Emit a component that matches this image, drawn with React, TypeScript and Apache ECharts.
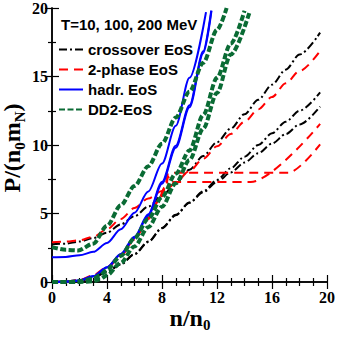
import React, { useEffect, useRef } from "react";
import * as echarts from "echarts";

// ---- data (x = n/n0, y = P/(n0 mN)) ----
const xTicks = [0, 4, 8, 12, 16, 20];
const yTicks = [0, 5, 10, 15, 20];

const crossT200 = [[0,2.75],[1,2.8],[2,2.95],[3,3.2],[4,3.6],[5,4.2],[6,4.8],[7,5.5],[8,6.3],[9,7.2],[10,8.2],[11,9.2],[12,10.2],[13,11.2],[14,12.25],[15,13.3],[16,14.4],[17,15.5],[18,16.6],[19.5,18.2]];
const crossT100 = [[0,0],[1,0.02],[2,0.1],[3,0.35],[4,0.75],[5,1.3],[6,2.05],[7,2.95],[8,3.95],[9,4.9],[10,5.8],[11,6.62],[12,7.45],[13,8.3],[14,9.15],[15,10.0],[16,10.85],[17,11.7],[18,12.5],[19.5,13.84]];
const crossT10 = [[0,0],[1,0.01],[2,0.08],[3,0.32],[4,0.72],[5,1.28],[6,2.03],[7,2.92],[8,3.92],[9,4.88],[10,5.78],[11,6.55],[12,7.3],[13,8.0],[14,8.72],[15,9.4],[16,10.1],[17,10.8],[18,11.5],[19.5,12.8]];

const twoT200 = [[0,2.9],[1,2.95],[2,3.05],[3,3.3],[4,3.85],[5,4.6],[6,5.4],[7,6.1],[8,6.65],[8.5,6.9],[9,7.3],[10,8.1],[11,9.0],[12,9.9],[13,10.8],[14,11.7],[15,12.6],[16,13.5],[17,14.5],[18,15.4],[19.5,16.87]];
const twoT100 = [[0,0],[1,0.03],[2,0.15],[3,0.5],[4,1.1],[5,2.0],[6,3.2],[7,4.7],[7.7,5.9],[8.2,6.9],[8.45,7.9],[8.6,7.98],[17.2,7.98],[19.5,10.04]];
const twoT10 = [[0,0],[1,0.02],[2,0.12],[3,0.45],[4,1.0],[5,1.9],[6,3.1],[7,4.6],[7.8,6.0],[8.3,7.0],[8.45,7.7],[8.6,7.3],[14.45,7.3],[19.5,11.54]];

const hadrT200 = [[0,1.8],[1,1.83],[2,1.95],[3,2.2],[4,2.85],[5,3.85],[6,5.05],[7,6.6],[8,8.65],[9,11.4],[10,14.9],[11.2,19.7]];
const hadrT100 = [[0,0.02],[1,0.04],[2,0.13],[3,0.43],[4,1.08],[5,2.05],[6,3.3],[7,4.95],[8,7.3],[9,9.95],[10,12.9],[11,16.85],[11.58,19.8]];
const hadrT10 = [[0,0],[1,0.02],[2,0.1],[3,0.4],[4,1.05],[5,2.0],[6,3.22],[7,4.85],[8,7.18],[9,9.8],[10,12.75],[11,16.7],[11.6,19.8]];

const dd2T200 = [[0,2.55],[1,2.35],[1.9,2.3],[3,2.8],[4,4.1],[5,5.6],[6,7.0],[7,8.45],[8,10.1],[9,12.0],[10,13.9],[11,16.0],[12,18.4],[12.7,20]];
const dd2T100 = [[0,0],[1,0],[2,0.05],[3,0.25],[3.5,0.5],[4,0.9],[5,1.9],[6,3.2],[7,4.6],[8,6.2],[9,7.9],[10,9.6],[11,12.2],[12,14.9],[13,17.4],[14,19.8]];
const dd2T10 = [[0,0],[1,0],[2,0],[3,0.05],[3.5,0.2],[4,0.5],[5,1.4],[6,2.6],[7,4.0],[8,5.5],[9,7.2],[10,8.9],[11,11.2],[12,13.8],[13,16.6],[14.4,19.8]];

const legendTitle = "T=10, 100, 200 MeV";
const legendNames = ["crossover EoS", "2-phase EoS", "hadr. EoS", "DD2-EoS"];

const BLACK = "#000000";
const RED = "#ff0000";
const BLUE = "#0000ff";
const GREEN = "#0a6b34";

const styles = [
  { color: BLACK, width: 2, dash: [8, 3, 2, 3] },
  { color: RED, width: 2, dash: [9, 6] },
  { color: BLUE, width: 2, dash: "solid" as any },
  { color: GREEN, width: 4, dash: [6, 2.5] },
];

export default function App() {
  const ref = useRef<HTMLDivElement>(null);
  useEffect(() => {
    document.body.style.margin = "0";
    const chart = echarts.init(ref.current!, null, { renderer: "svg" });
    const mk = (name: string, data: number[][], s: any, z: number) => ({
      type: "line",
      name,
      data,
      showSymbol: false,
      symbol: "none",
      smooth: 0.3,
      smoothMonotone: "x",
      z,
      color: s.color,
      itemStyle: { color: s.color },
      lineStyle: { color: s.color, width: s.width, type: s.dash },
      silent: true,
    });
    const serif = "Liberation Serif";
    const sans = "Liberation Sans";
    const axisCommon = {
      type: "value",
      min: 0,
      max: 20,
      axisLine: { show: true, lineStyle: { color: "#000", width: 1.5 } },
      axisTick: { show: true, inside: true, length: 7, lineStyle: { color: "#000", width: 1.2 } },
      minorTick: { show: true, length: 4, lineStyle: { color: "#000", width: 1.2 } },
      splitLine: { show: false },
    };
    const rich = {
      a: { fontSize: 24, fontWeight: "bold", fontFamily: serif, color: "#000", verticalAlign: "top", lineHeight: 26 },
      s: { fontSize: 15, fontWeight: "bold", fontFamily: serif, color: "#000", verticalAlign: "top", padding: [12, 0, 0, 0] },
    };
    chart.setOption({
      animation: false,
      title: {
        text: legendTitle,
        left: 61,
        top: 17,
        padding: 0,
        textStyle: { fontSize: 15, fontWeight: "bold", fontFamily: sans, color: "#000" },
      },
      legend: {
        data: legendNames,
        orient: "vertical",
        left: 58,
        top: 42,
        padding: 0,
        itemWidth: 24,
        itemHeight: 14,
        itemGap: 5,
        selectedMode: false,
        itemStyle: { opacity: 0 },
        textStyle: { fontSize: 15, fontWeight: "bold", fontFamily: sans, color: "#000" },
      },
      grid: { left: 52, right: 10, top: 7, bottom: 55 },
      xAxis: [
        {
          ...axisCommon,
          position: "bottom",
          interval: 4,
          minorTick: { ...axisCommon.minorTick, splitNumber: 4 },
          axisLabel: {
            show: true,
            margin: 7,
            color: "#000",
            fontSize: 16,
            fontWeight: "bold",
            fontFamily: serif,
            formatter: (v: number) => (xTicks.includes(v) ? String(v) : ""),
          },
        },
        {
          ...axisCommon,
          position: "top",
          interval: 4,
          minorTick: { ...axisCommon.minorTick, splitNumber: 4 },
          axisLabel: { show: false },
        },
      ],
      yAxis: [
        {
          ...axisCommon,
          position: "left",
          interval: 5,
          minorTick: { ...axisCommon.minorTick, splitNumber: 2 },
          axisLabel: {
            show: true,
            margin: 4,
            color: "#000",
            fontSize: 16,
            fontWeight: "bold",
            fontFamily: serif,
            formatter: (v: number) => (yTicks.includes(v) ? String(v) : ""),
          },
        },
        {
          ...axisCommon,
          position: "right",
          interval: 5,
          minorTick: { ...axisCommon.minorTick, splitNumber: 2 },
          axisLabel: { show: false },
        },
      ],
      series: [
        mk(legendNames[0], crossT200, styles[0], 2),
        mk(legendNames[0], crossT100, styles[0], 2),
        mk(legendNames[0], crossT10, styles[0], 2),
        mk(legendNames[1], twoT200, styles[1], 3),
        mk(legendNames[1], twoT100, styles[1], 3),
        mk(legendNames[1], twoT10, styles[1], 3),
        mk(legendNames[2], hadrT200, styles[2], 4),
        mk(legendNames[2], hadrT100, styles[2], 4),
        mk(legendNames[2], hadrT10, styles[2], 4),
        mk(legendNames[3], dd2T200, styles[3], 5),
        mk(legendNames[3], dd2T100, styles[3], 5),
        mk(legendNames[3], dd2T10, styles[3], 5),
      ],
      graphic: [
        {
          type: "text",
          x: 190,
          y: 319,
          style: { text: "{a|n/n}{s|0}", align: "center", verticalAlign: "middle", rich },
        },
        {
          type: "text",
          x: 13.5,
          y: 148,
          rotation: Math.PI / 2,
          style: { text: "{a|P/(n}{s|0}{a|m}{s|N}{a|)}", align: "center", verticalAlign: "middle", rich },
        },
      ],
    });
    return () => chart.dispose();
  }, []);
  return <div ref={ref} style={{ width: 338, height: 337 }} />;
}
